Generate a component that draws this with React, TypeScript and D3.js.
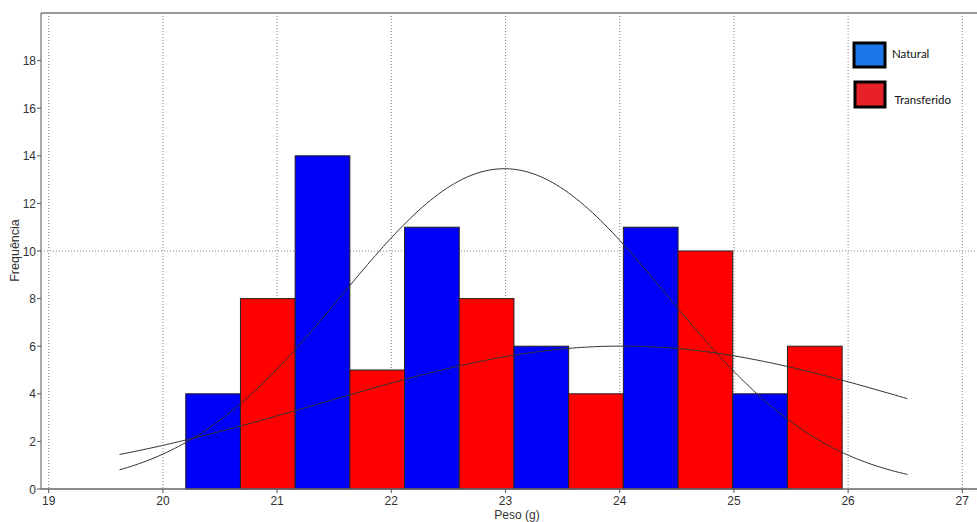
import React from "react";
import * as d3 from "d3";

const binStarts = [20.2, 21.158, 22.116, 23.074, 24.032, 24.99];
const binWidth = 0.958;
const naturalCounts = [4, 14, 11, 6, 11, 4];
const transferidoCounts = [8, 5, 8, 4, 10, 6];
const xTicks = [19, 20, 21, 22, 23, 24, 25, 26, 27];
const yTicks = [0, 2, 4, 6, 8, 10, 12, 14, 16, 18];
const yGrid = [10];
// fitted normal curves: mean, sd, n
const naturalFit = { mean: 22.99, sd: 1.42, n: 50 };
const transferidoFit = { mean: 24.02, sd: 2.61, n: 41 };
const curveRange = [19.62, 26.52];

const W = 977;
const H = 522;
const axisLeft = 41;
const axisBottom = 489;
const axisTop = 13;

export default function App() {
  const x = d3.scaleLinear().domain([19, 27]).range([48.7, 962.3]);
  const y = d3.scaleLinear().domain([0, 20]).range([axisBottom, axisTop]);
  const half = binWidth / 2;

  const normal = (fit: { mean: number; sd: number; n: number }) => {
    const pts: [number, number][] = [];
    const steps = 200;
    for (let i = 0; i <= steps; i++) {
      const xv = curveRange[0] + ((curveRange[1] - curveRange[0]) * i) / steps;
      const z = (xv - fit.mean) / fit.sd;
      const yv = (fit.n * binWidth) / (fit.sd * Math.sqrt(2 * Math.PI)) * Math.exp(-0.5 * z * z);
      pts.push([xv, yv]);
    }
    return d3
      .line<[number, number]>()
      .x((d) => x(d[0]))
      .y((d) => y(d[1]))(pts) as string;
  };

  const tickFont = "'Liberation Sans', Arial, sans-serif";
  const legendFont = "Lato, 'Open Sans', sans-serif";

  return (
    <svg
      width={W}
      height={H}
      style={{ position: "absolute", left: 0, top: 0, background: "#fff" }}
    >
      {/* grid */}
      {xTicks.map((t) => (
        <line
          key={"gx" + t}
          x1={x(t)}
          x2={x(t)}
          y1={axisTop}
          y2={axisBottom}
          stroke="#888"
          strokeWidth={1}
          strokeDasharray="1,2"
        />
      ))}
      {yGrid.map((t) => (
        <line
          key={"gy" + t}
          x1={axisLeft}
          x2={W}
          y1={y(t)}
          y2={y(t)}
          stroke="#888"
          strokeWidth={1}
          strokeDasharray="1,2"
        />
      ))}
      {/* bars */}
      {binStarts.map((b, i) => (
        <g key={"bar" + i}>
          <rect
            x={x(b)}
            y={y(naturalCounts[i])}
            width={x(b + half) - x(b)}
            height={y(0) - y(naturalCounts[i])}
            fill="#0000f8"
            stroke="#222"
            strokeWidth={1}
          />
          <rect
            x={x(b + half)}
            y={y(transferidoCounts[i])}
            width={x(b + binWidth) - x(b + half)}
            height={y(0) - y(transferidoCounts[i])}
            fill="#ff0000"
            stroke="#222"
            strokeWidth={1}
          />
        </g>
      ))}
      {/* curves */}
      <path d={normal(naturalFit)} fill="none" stroke="#333" strokeWidth={1} />
      <path d={normal(transferidoFit)} fill="none" stroke="#333" strokeWidth={1} />
      {/* axes */}
      <line x1={axisLeft} x2={W} y1={axisTop} y2={axisTop} stroke="#999" strokeWidth={2} />
      <line x1={axisLeft} x2={axisLeft} y1={axisTop} y2={axisBottom} stroke="#555" strokeWidth={1} />
      <line x1={axisLeft} x2={W} y1={axisBottom} y2={axisBottom} stroke="#666" strokeWidth={1.5} />
      {yTicks.map((t) => (
        <g key={"yt" + t}>
          <line x1={axisLeft - 4} x2={axisLeft} y1={y(t)} y2={y(t)} stroke="#555" />
          <text
            x={axisLeft - 5}
            y={y(t) + 4.5}
            textAnchor="end"
            fontFamily={tickFont}
            fontSize={12}
            fill="#333"
          >
            {t}
          </text>
        </g>
      ))}
      {xTicks.map((t) => (
        <g key={"xt" + t}>
          <line x1={x(t)} x2={x(t)} y1={axisBottom} y2={axisBottom + 4} stroke="#555" />
          <text
            x={x(t)}
            y={axisBottom + 15.5}
            textAnchor="middle"
            fontFamily={tickFont}
            fontSize={12}
            fill="#333"
          >
            {t}
          </text>
        </g>
      ))}
      <text
        x={517}
        y={518.5}
        textAnchor="middle"
        fontFamily={tickFont}
        fontSize={12}
        fill="#333"
      >
        Peso (g)
      </text>
      <text
        transform={`translate(19, 250.5) rotate(-90)`}
        textAnchor="middle"
        fontFamily={tickFont}
        fontSize={12.5}
        fill="#333"
      >
        Frequência
      </text>
      {/* legend */}
      <rect x={854} y={43} width={31} height={24} fill="#1c78ea" stroke="#000" strokeWidth={3} />
      <text x={892} y={58} fontFamily={legendFont} fontSize={11.5} fill="#111">
        Natural
      </text>
      <rect x={855} y={82} width={30} height={25} fill="#e8202a" stroke="#000" strokeWidth={3} />
      <text x={894.5} y={104} fontFamily={legendFont} fontSize={11.5} fill="#111">
        Transferido
      </text>
    </svg>
  );
}
